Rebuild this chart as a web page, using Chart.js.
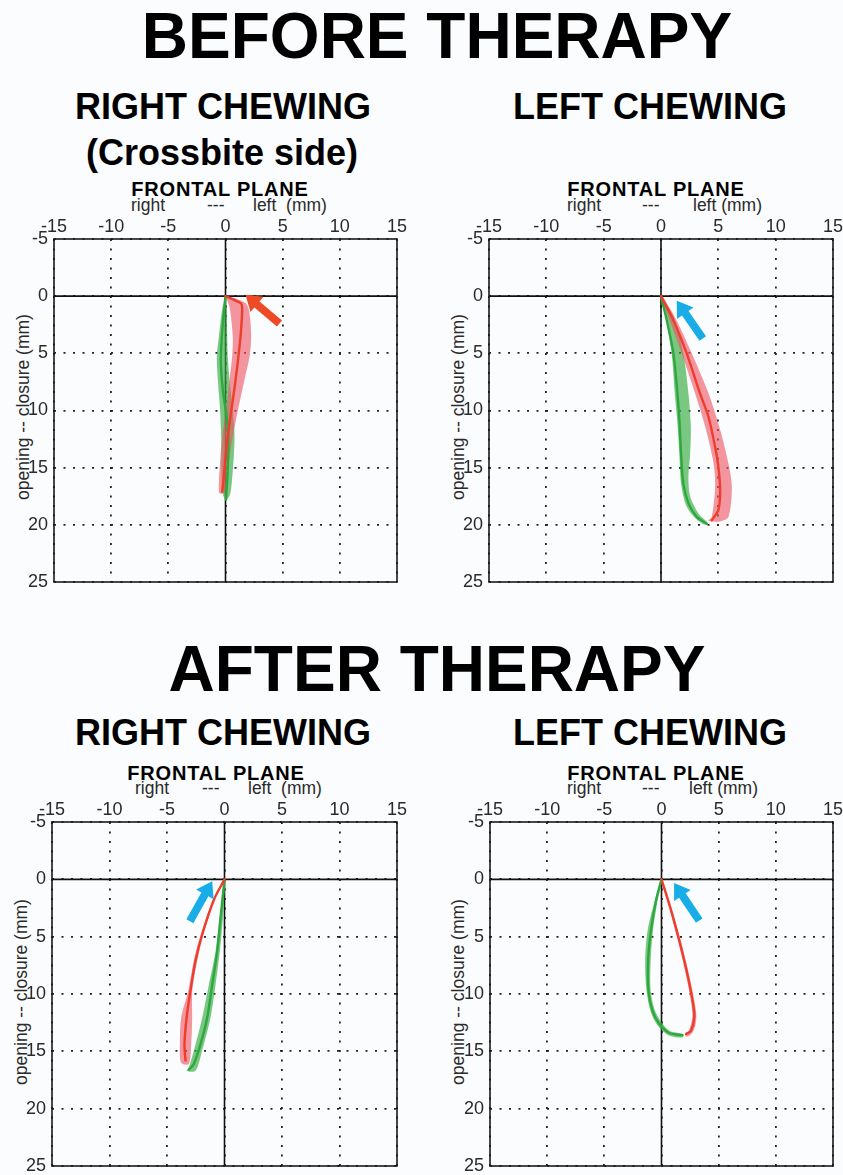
<!DOCTYPE html>
<html><head><meta charset="utf-8">
<script src="https://cdn.jsdelivr.net/npm/chart.js@4.4.1/dist/chart.umd.min.js"></script>
<style>
html,body{margin:0;padding:0;background:#fbfcfe;}
body{width:843px;height:1175px;position:relative;overflow:hidden;font-family:"Liberation Sans",Arial,sans-serif;color:#000;}
.t{position:absolute;white-space:pre;line-height:1;}
.c{transform:translateX(-50%);}
.big{font-size:64px;font-weight:bold;}
.sub{font-size:36px;font-weight:bold;}
.fp{font-size:20px;font-weight:bold;letter-spacing:0.8px;}
.ax{font-size:17.5px;color:#2a2a2a;}
.yt{font-size:17.5px;color:#2a2a2a;transform:translate(-50%,-50%) rotate(-90deg);}
canvas{position:absolute;}
</style></head>
<body>
<div class="t big c" style="left:437px;top:4px;">BEFORE THERAPY</div>
<div class="t sub c" style="left:223px;top:89px;">RIGHT CHEWING</div>
<div class="t sub c" style="left:222px;top:135px;">(Crossbite side)</div>
<div class="t sub c" style="left:650px;top:89px;">LEFT CHEWING</div>
<div class="t big c" style="left:437px;top:637px;">AFTER THERAPY</div>
<div class="t sub c" style="left:223px;top:715px;">RIGHT CHEWING</div>
<div class="t sub c" style="left:650px;top:715px;">LEFT CHEWING</div>

<div class="t fp c" style="left:220px;top:179px;">FRONTAL PLANE</div>
<div class="t fp c" style="left:656px;top:179px;">FRONTAL PLANE</div>
<div class="t fp c" style="left:216px;top:763px;">FRONTAL PLANE</div>
<div class="t fp c" style="left:656px;top:763px;">FRONTAL PLANE</div>

<div class="t ax" style="left:131px;top:197px;">right</div>
<div class="t ax" style="left:207px;top:197px;">---</div>
<div class="t ax" style="left:253px;top:197px;">left  (mm)</div>
<div class="t ax" style="left:567px;top:197px;">right</div>
<div class="t ax" style="left:642px;top:197px;">---</div>
<div class="t ax" style="left:693px;top:197px;">left (mm)</div>
<div class="t ax" style="left:135px;top:780px;">right</div>
<div class="t ax" style="left:202px;top:780px;">---</div>
<div class="t ax" style="left:248px;top:780px;">left  (mm)</div>
<div class="t ax" style="left:567px;top:780px;">right</div>
<div class="t ax" style="left:642px;top:780px;">---</div>
<div class="t ax" style="left:689px;top:780px;">left (mm)</div>

<div class="t yt" style="left:24px;top:407px;">opening -- closure (mm)</div>
<div class="t yt" style="left:459px;top:407px;">opening -- closure (mm)</div>
<div class="t yt" style="left:22px;top:992px;">opening -- closure (mm)</div>
<div class="t yt" style="left:459px;top:992px;">opening -- closure (mm)</div>

<canvas id="c1" width="405" height="397" style="left:4px;top:199px;"></canvas>
<canvas id="c2" width="404" height="397" style="left:439px;top:199px;"></canvas>
<canvas id="c3" width="407" height="398" style="left:2px;top:782px;"></canvas>
<canvas id="c4" width="403" height="398" style="left:440px;top:782px;"></canvas>

<script>
// ---- tick labels (mm) ----
const xTickValues = [-15, -10, -5, 0, 5, 10, 15];
const yTickValues = [-5, 0, 5, 10, 15, 20, 25];

// ---- BEFORE THERAPY, RIGHT CHEWING (crossbite side) ----  [x mm, y mm]
const beforeRightRedPath = [[0,0],[0.7,0.3],[1.37,0.64],[1.46,1.17],[1.31,3.56],[0.99,6.47],[0.64,9.1],[0.35,11.1],[0.06,13.5],[-0.15,15.8],[-0.29,17.1]];
const beforeRightRedBand = [[0,0],[0.35,0.93],[0.64,3.56],[0.58,5.3],[0.35,7.3],[0.06,10],[-0.29,12.3],[-0.52,15.2],[-0.58,17.1],[-0.38,17.3],[0.06,17],[0.2,15.2],[0.64,12.3],[1.08,10],[1.66,7.3],[2.1,5.3],[2.24,3.56],[2.1,1.5],[1.8,0.64],[0.8,0.15]];
const beforeRightGreenPath = [[0,0],[-0.2,2],[-0.35,4],[-0.4,6],[-0.2,8.5],[0.1,10.5],[0.25,12.5],[0.2,15],[0.05,17.8]];
const beforeRightGreenBand = [[0,0.06],[-0.3,1.2],[-0.58,3.56],[-0.76,5.3],[-0.67,7.3],[-0.47,10],[-0.38,12.3],[-0.35,15.2],[-0.23,17.3],[0.06,17.8],[0.41,17.3],[0.64,15.2],[0.79,12.3],[0.64,10],[0.35,7.3],[0.2,5.3],[0.15,3.56],[0.12,1.2]];
const beforeRightArrow = [[4.72,2.39],[1.75,-0.12]]; // tail, tip

// ---- BEFORE THERAPY, LEFT CHEWING ----
const beforeLeftRedPath = [[0,0],[1.08,2.1],[2.24,5.0],[3.4,8.5],[4.14,10.55],[4.72,13.2],[5.0,14.9],[5.16,17],[5.0,18.7],[4.43,19.6]];
const beforeLeftRedBand = [[0,0],[0.64,1.8],[1.8,5],[2.97,8.5],[3.85,11.4],[4.58,14.6],[4.72,16.7],[4.43,19.3],[4.14,19.65],[5.16,19.7],[5.89,19.3],[6.18,16.7],[5.89,14.7],[5.16,11.7],[4.14,8.5],[2.68,5.0],[1.3,2.0],[0.2,0.1]];
const beforeLeftGreenPath = [[0,0],[0.5,2.1],[1.08,5],[1.43,8.5],[1.6,10.8],[1.75,13.8],[1.95,16.4],[2.39,18.1],[3.12,19.3],[3.99,19.9]];
const beforeLeftGreenBand = [[0,0],[0.45,2.1],[0.93,5],[1.2,8.5],[1.43,11.1],[1.6,13.8],[1.75,16.4],[2.19,18.3],[2.97,19.4],[3.85,20],[4.05,19.8],[3.27,19.0],[2.54,17.5],[2.39,15.8],[2.54,13.8],[2.6,11.4],[2.39,8.5],[1.95,5],[1.22,2.1],[0.2,0.2]];
const beforeLeftArrow = [[3.64,3.7],[1.37,0.41]];

// ---- AFTER THERAPY, RIGHT CHEWING ----
const afterRightRedPath = [[0,0],[-0.93,1.8],[-1.94,4.8],[-2.52,7.1],[-2.96,9.7],[-3.3,12.1],[-3.48,14.4],[-3.39,15.8]];
const afterRightRedBand = [[0,0],[-0.98,1.8],[-2.05,4.8],[-2.67,7.1],[-3.15,9.7],[-3.77,12.1],[-3.88,14.4],[-3.77,16],[-3.1,16.1],[-2.9,14.4],[-2.81,12.1],[-2.8,9.7],[-2.37,7.1],[-1.83,4.8],[-0.85,1.8],[0.05,0]];
const afterRightGreenPath = [[0,0],[-0.35,3.4],[-0.64,6.3],[-1.07,9.2],[-1.51,12.1],[-2.09,14.4],[-2.67,16.1],[-3.1,16.6]];
const afterRightGreenBand = [[0,0.1],[-0.42,3.4],[-0.78,6.3],[-1.36,9.2],[-1.94,12.1],[-2.52,14.4],[-3.1,16.4],[-3.3,16.7],[-2.52,16.7],[-1.94,14.9],[-1.22,12.1],[-0.78,9.2],[-0.41,6.3],[-0.14,3.4],[0.08,0.3]];
const afterRightArrow = [[-3.01,3.65],[-1.07,0.17]];

// ---- AFTER THERAPY, LEFT CHEWING ----
const afterLeftRedPath = [[0,0],[0.85,2.75],[1.57,5.4],[2.2,8.0],[2.72,10.6],[2.87,12.0],[2.58,13.2],[2.14,13.5]];
const afterLeftRedBand = [[0,0],[0.75,2.75],[1.45,5.4],[2.07,8.0],[2.57,10.6],[2.7,12],[2.4,13.2],[2.1,13.7],[2.5,13.6],[2.85,13.1],[3.05,12],[2.88,10.6],[2.34,8.0],[1.7,5.4],[0.95,2.75],[0.08,0]];
const afterLeftGreenPath = [[0,0],[-0.49,1.9],[-0.93,4.5],[-1.17,7.1],[-1.14,9.7],[-0.78,11.5],[-0.2,12.6],[0.68,13.4],[1.84,13.6]];
const afterLeftGreenBand = [[0,0],[-0.6,1.9],[-1.22,4.5],[-1.43,7.1],[-1.31,9.7],[-0.93,11.6],[-0.3,12.8],[0.6,13.6],[1.8,13.8],[1.85,13.5],[0.7,13.2],[-0.05,12.4],[-0.62,11.3],[-0.95,9.7],[-0.95,7.1],[-0.75,4.5],[-0.35,1.9],[0.05,0.1]];
const afterLeftArrow = [[3.3,3.6],[1.1,0.32]];

// ---- styles ----
const RED = '#ee3d2a';
const GREEN = '#2da83e';
const RED_BAND = 'rgba(236,85,100,0.62)';
const GREEN_BAND = 'rgba(55,172,65,0.66)';
const RED_ARROW = '#ee4a26';
const BLUE_ARROW = '#18ade6';
const FONT = '"Liberation Sans", Arial, sans-serif';

const toXY = arr => arr.map(p => ({x: p[0], y: p[1]}));

const framePlugin = {
  id: 'frame',
  beforeDatasetsDraw(chart) {
    const {ctx, chartArea: a, scales: {x, y}} = chart;
    const x0 = x.getPixelForValue(0), y0 = y.getPixelForValue(0);
    ctx.save();
    ctx.strokeStyle = '#111';
    ctx.lineWidth = 1.6;
    ctx.beginPath();
    ctx.moveTo(x0, a.top); ctx.lineTo(x0, a.bottom);
    ctx.moveTo(a.left, y0); ctx.lineTo(a.right, y0);
    ctx.stroke();
    ctx.restore();
  },
  afterDatasetsDraw(chart, args, opts) {
    const {ctx, chartArea: a, scales: {x, y}} = chart;
    const arr = opts.arrow;
    if (arr) {
      const tx = x.getPixelForValue(arr[0][0]), ty = y.getPixelForValue(arr[0][1]);
      const px = x.getPixelForValue(arr[1][0]), py = y.getPixelForValue(arr[1][1]);
      const dx = px - tx, dy = py - ty, len = Math.hypot(dx, dy);
      const ux = dx / len, uy = dy / len, nx = -uy, ny = ux;
      const L = 15, hw = 10, sw = 4;
      const bx = px - ux * L, by = py - uy * L;
      ctx.save();
      ctx.fillStyle = opts.color;
      ctx.beginPath();
      ctx.moveTo(tx + nx * sw, ty + ny * sw);
      ctx.lineTo(bx + nx * sw, by + ny * sw);
      ctx.lineTo(bx + nx * hw, by + ny * hw);
      ctx.lineTo(px, py);
      ctx.lineTo(bx - nx * hw, by - ny * hw);
      ctx.lineTo(bx - nx * sw, by - ny * sw);
      ctx.lineTo(tx - nx * sw, ty - ny * sw);
      ctx.closePath();
      ctx.fill();
      ctx.restore();
    }
    ctx.save();
    ctx.strokeStyle = '#1a1a1a';
    ctx.lineWidth = 1.6;
    ctx.strokeRect(a.left, a.top, a.right - a.left, a.bottom - a.top);
    ctx.restore();
  }
};

function lineDs(data, color) {
  return {data: toXY(data), showLine: true, borderColor: color, borderWidth: 2.4,
          pointRadius: 0, tension: 0.3, fill: false, borderCapStyle: 'round', borderJoinStyle: 'round'};
}
function bandDs(data, color) {
  return {data: toXY(data), showLine: true, borderColor: 'rgba(0,0,0,0)', borderWidth: 0,
          backgroundColor: color, pointRadius: 0, tension: 0.3, fill: 'shape'};
}

function makePanel(id, padRight, red, redBand, green, greenBand, arrow, arrowColor) {
  return new Chart(document.getElementById(id), {
    type: 'scatter',
    data: {datasets: [lineDs(red, RED), lineDs(green, GREEN), bandDs(redBand, RED_BAND), bandDs(greenBand, GREEN_BAND)]},
    plugins: [framePlugin],
    options: {
      responsive: false, animation: false, devicePixelRatio: 1,
      layout: {padding: {left: 0, top: 0, right: padRight, bottom: 14}},
      plugins: {legend: {display: false}, tooltip: {enabled: false}, title: {display: false},
                frame: {arrow: arrow, color: arrowColor}},
      scales: {
        x: {type: 'linear', position: 'top', min: -15, max: 15,
            afterBuildTicks: s => { s.ticks = xTickValues.map(v => ({value: v})); },
            afterFit: s => { s.height = 40; s.paddingLeft = 0; s.paddingRight = 0; },
            ticks: {font: {family: FONT, size: 18}, color: '#2a2a2a', padding: 1, maxRotation: 0, autoSkip: false},
            grid: {color: '#222', lineWidth: 1.8, drawTicks: false},
            border: {display: false, dash: [2, 7.5]}},
        y: {type: 'linear', position: 'left', reverse: true, min: -5, max: 25,
            afterBuildTicks: s => { s.ticks = yTickValues.map(v => ({value: v})); },
            afterFit: s => { s.width = 50; s.paddingTop = 0; s.paddingBottom = 0; },
            ticks: {font: {family: FONT, size: 18}, color: '#2a2a2a', padding: 6, autoSkip: false},
            grid: {color: '#222', lineWidth: 1.8, drawTicks: false},
            border: {display: false, dash: [2, 7.5]}}
      }
    }
  });
}

makePanel('c1', 12, beforeRightRedPath, beforeRightRedBand, beforeRightGreenPath, beforeRightGreenBand, beforeRightArrow, RED_ARROW);
makePanel('c2', 10, beforeLeftRedPath, beforeLeftRedBand, beforeLeftGreenPath, beforeLeftGreenBand, beforeLeftArrow, BLUE_ARROW);
makePanel('c3', 12, afterRightRedPath, afterRightRedBand, afterRightGreenPath, afterRightGreenBand, afterRightArrow, BLUE_ARROW);
makePanel('c4', 10, afterLeftRedPath, afterLeftRedBand, afterLeftGreenPath, afterLeftGreenBand, afterLeftArrow, BLUE_ARROW);
</script>
</body></html>
